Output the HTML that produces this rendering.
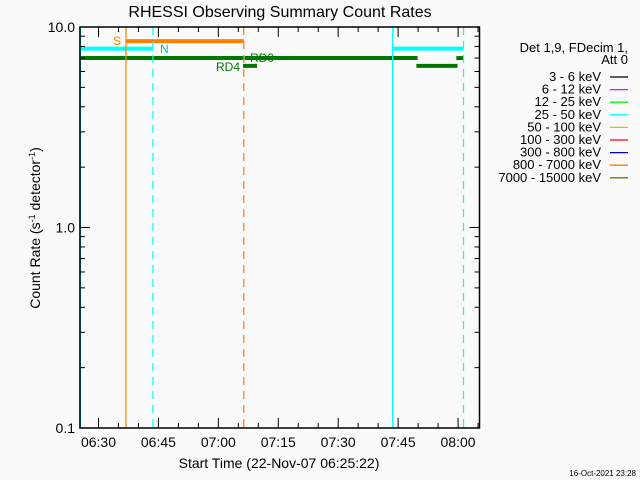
<!DOCTYPE html>
<html><head><meta charset="utf-8"><style>
body{margin:0;background:#fafafa;}
svg{display:block;font-family:"Liberation Sans","DejaVu Sans",sans-serif;}
</style></head><body>
<svg id="chart" width="640" height="480">
<rect width="640" height="480" fill="#fafafa"/>
<text x="280" y="17" font-size="16" text-anchor="middle">RHESSI Observing Summary Count Rates</text>
<g id="plot"></g>
<g id="legend"></g>
<text x="279" y="468" font-size="14" text-anchor="middle">Start Time (22-Nov-07 06:25:22)</text>
<text x="40" y="228" font-size="14" text-anchor="middle" transform="rotate(-90 40 228)">Count Rate (s<tspan font-size="9" dy="-5">-1</tspan><tspan dy="5"> detector</tspan><tspan font-size="9" dy="-5">-1</tspan><tspan dy="5">)</tspan></text>
<text x="636" y="476" font-size="8" text-anchor="end">16-Oct-2021 23:28</text>
</svg>
<script>
// minutes since 06:25:22
const xTickLabels=["06:30","06:45","07:00","07:15","07:30","07:45","08:00"];
const xTickMinutes=[4.63,19.63,34.63,49.63,64.63,79.63,94.63];
const yTickLabels=["0.1","1.0","10.0"];
const yTickValues=[0.1,1,10];
const vlineMinutes=[0,11.5,18.25,41,78.25,96];
const vlineColors=["#00ffff","#ff8000","#00ffff","#ff8000","#00ffff","#00ffff"];
const vlineDashed=[false,false,true,true,false,true];
const segStart=[11.5,0,78.25,0,41.2,94.2,40.8,84.2];
const segEnd=[41,18.25,96,41,84.5,96,44.3,94.5];
const segValue=[8.5,7.8,7.8,7.0,7.0,7.0,6.4,6.4];
const segColor=["#ff8000","#00ffff","#00ffff","#007800","#007800","#007800","#007800","#007800"];
const legendLabels=["3 - 6 keV","6 - 12 keV","12 - 25 keV","25 - 50 keV","50 - 100 keV","100 - 300 keV","300 - 800 keV","800 - 7000 keV","7000 - 15000 keV"];
const legendColors=["#000000","#ff00ff","#00ff00","#00ffff","#c8c800","#ff0000","#0000c8","#ff8000","#787800"];

const L=80,R=479.5,T=27,B=428,XMAX=100;
const xs=m=>L+(R-L)*m/XMAX;
const ys=v=>B-(B-T)*(Math.log10(v)+1)/2;
const NS="http://www.w3.org/2000/svg";
const plot=document.getElementById('plot');
function mk(tag,attrs,parent){const e=document.createElementNS(NS,tag);for(const k in attrs)e.setAttribute(k,attrs[k]);(parent||plot).appendChild(e);return e;}

segStart.forEach((s,i)=>{
  const e=mk('line',{x1:xs(s),x2:xs(segEnd[i]),y1:ys(segValue[i]),y2:ys(segValue[i]),stroke:segColor[i],'stroke-width':4});
  
  
});
vlineMinutes.forEach((m,i)=>{
  const a={x1:xs(m),x2:xs(m),y1:T,y2:B,stroke:vlineColors[i],'stroke-width':(m===0?2:1.2)};
  if(vlineDashed[i])a['stroke-dasharray']='8,6';
  const e=mk('line',a);
  
  
});
[["S",113,45,"#ff8000"],["N",160,53,"#00c8c8"],["RD0",250,62,"#007800"],["RD4",216,71,"#007800"]].forEach(t=>{
  const e=mk('text',{x:t[1],y:t[2],'font-size':12,fill:t[3]});
  e.textContent=t[0];
  
  
});
const box=mk('rect',{x:L,y:T,width:R-L,height:B-T,fill:'none',stroke:'#000','stroke-width':1.5});


for(let m=4.63;m<XMAX;m+=5){
  const maj=Math.abs(((m-4.63)/15)-Math.round((m-4.63)/15))<0.01;
  const h=maj?10:5;
  mk('line',{x1:xs(m),x2:xs(m),y1:B,y2:B-h,stroke:'#000'});
  mk('line',{x1:xs(m),x2:xs(m),y1:T,y2:T+h,stroke:'#000'});
}
xTickMinutes.forEach((m,i)=>{
  const e=mk('text',{x:xs(m),y:447,'font-size':14,'text-anchor':'middle'});
  e.textContent=xTickLabels[i];
  
  
});
for(let d=0.1;d<10;d*=10){
  for(let k=1;k<=10;k++){
    const v=d*k,maj=(k===1||k===10),h=maj?10:5;
    mk('line',{x1:L,x2:L+h,y1:ys(v),y2:ys(v),stroke:'#000'});
    mk('line',{x1:R,x2:R-h,y1:ys(v),y2:ys(v),stroke:'#000'});
  }
}
yTickValues.forEach((v,i)=>{
  const e=mk('text',{x:75,y:ys(v)+5,'font-size':14,'text-anchor':'end'});
  e.textContent=yTickLabels[i];
  
  
});
const lg=document.getElementById('legend');
[["Det 1,9, FDecim 1,",52],["Att 0",64]].forEach(t=>{
  const e=mk('text',{x:628,y:t[1],'font-size':13,'text-anchor':'end'},lg);
  e.textContent=t[0];
  
  
});
legendLabels.forEach((l,i)=>{
  const y=77+i*12.6;
  const e=mk('text',{x:601,y:y+4,'font-size':13,'text-anchor':'end'},lg);
  e.textContent=l;
  
  
  mk('line',{x1:610,x2:628,y1:y,y2:y,stroke:legendColors[i],'stroke-width':1.3},lg);
});
</script>
</body></html>
